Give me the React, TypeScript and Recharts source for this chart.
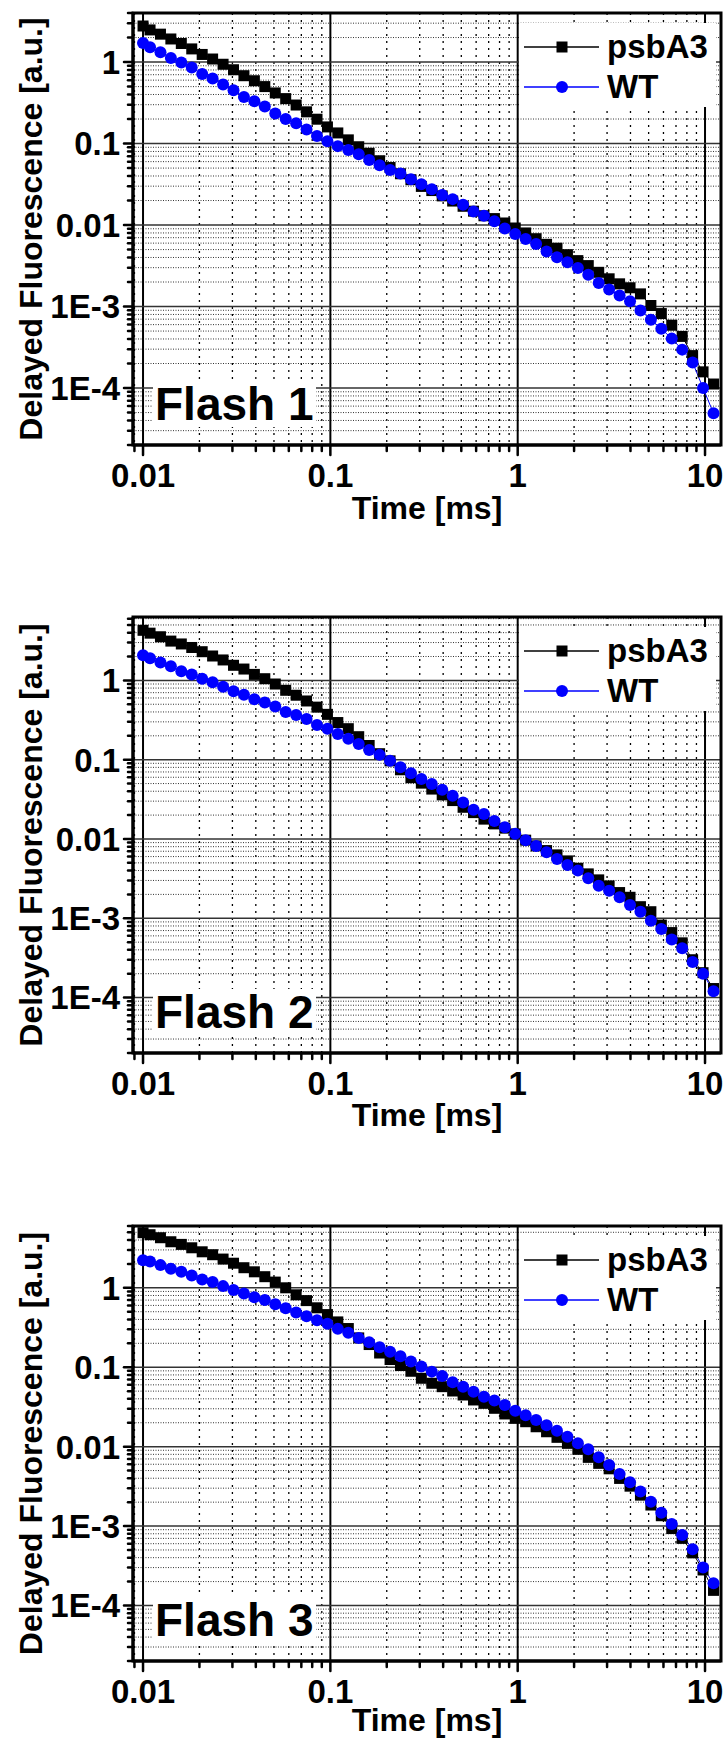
import React from 'react';
import { LineChart, Line, XAxis, YAxis, CartesianGrid, Legend, Label, ReferenceArea } from 'recharts';

// sampling times [ms], shared by all three flashes
const TIME = [
  0.01, 0.0109, 0.01239, 0.01408, 0.01601, 0.0182, 0.02069, 0.02352, 0.02675, 0.03041,
  0.03457, 0.0393, 0.04468, 0.0508, 0.05775, 0.06566, 0.07464, 0.08486, 0.09648, 0.1096,
  0.1247, 0.1417, 0.1611, 0.1832, 0.2083, 0.2367, 0.2692, 0.306, 0.3479, 0.3954,
  0.4496, 0.5111, 0.581, 0.6606, 0.751, 0.8537, 0.9703, 1.103, 1.254, 1.426,
  1.621, 1.843, 2.095, 2.381, 2.707, 3.077, 3.499, 3.978, 4.522, 5.14,
  5.844, 6.643, 7.553, 8.586, 9.761, 11.1,
];

const F1_PSBA3 = [
  2.77, 2.48, 2.2, 1.92, 1.69, 1.45, 1.24, 1.09, 0.94, 0.805,
  0.68, 0.59, 0.5, 0.418, 0.356, 0.297, 0.245, 0.199, 0.16, 0.135,
  0.111, 0.0914, 0.076, 0.0615, 0.0508, 0.0426, 0.036, 0.0298, 0.0265, 0.0228,
  0.0197, 0.017, 0.0148, 0.013, 0.012, 0.0106, 0.0092, 0.008, 0.0068, 0.0058,
  0.0052, 0.00433, 0.00366, 0.00318, 0.00263, 0.00219, 0.0019, 0.0017, 0.00143, 0.00103,
  0.00082, 0.00059, 0.00043, 0.00025, 0.000158, 0.000112,
];
const F1_WT = [
  1.71, 1.52, 1.32, 1.12, 0.99, 0.86, 0.713, 0.627, 0.53, 0.451,
  0.373, 0.331, 0.285, 0.234, 0.2, 0.177, 0.149, 0.124, 0.107, 0.093,
  0.0832, 0.0738, 0.063, 0.054, 0.0474, 0.0428, 0.0365, 0.0317, 0.0275, 0.0234,
  0.0208, 0.0177, 0.0147, 0.013, 0.0111, 0.00908, 0.00776, 0.00675, 0.00585, 0.00475,
  0.00402, 0.00349, 0.00298, 0.00245, 0.00195, 0.00162, 0.00137, 0.00116, 0.000896, 0.00069,
  0.000535, 0.000404, 0.000296, 0.000206, 0.0001, 0.000049,
];

const F2_PSBA3 = [
  4.28, 3.94, 3.55, 3.13, 2.88, 2.6, 2.3, 2.03, 1.81, 1.55,
  1.39, 1.19, 1.05, 0.9, 0.75, 0.65, 0.55, 0.46, 0.373, 0.294,
  0.246, 0.195, 0.151, 0.119, 0.0967, 0.0746, 0.0593, 0.0506, 0.0426, 0.036,
  0.0305, 0.0251, 0.0215, 0.0178, 0.0155, 0.0137, 0.0116, 0.00966, 0.00818, 0.00714,
  0.0063, 0.00529, 0.00427, 0.00363, 0.00305, 0.00256, 0.00211, 0.00184, 0.0014, 0.00121,
  0.00082, 0.00066, 0.00049, 0.0003, 0.000206, 0.00013,
];
const F2_WT = [
  2.07, 1.9, 1.68, 1.51, 1.3, 1.19, 1.05, 0.95, 0.83, 0.73,
  0.66, 0.58, 0.525, 0.47, 0.4, 0.365, 0.326, 0.273, 0.246, 0.211,
  0.184, 0.158, 0.132, 0.115, 0.0967, 0.08, 0.0674, 0.0569, 0.0492, 0.0417,
  0.035, 0.0288, 0.0233, 0.0206, 0.0169, 0.0141, 0.0116, 0.00966, 0.00818, 0.00681,
  0.00561, 0.00471, 0.00399, 0.0032, 0.00258, 0.00223, 0.00184, 0.00147, 0.00121, 0.00093,
  0.00073, 0.00054, 0.00042, 0.00028, 0.0002, 0.00012,
];

const F3_PSBA3 = [
  4.94, 4.66, 4.27, 3.8, 3.52, 3.19, 2.84, 2.61, 2.3, 2.04,
  1.79, 1.59, 1.38, 1.18, 1.0, 0.816, 0.69, 0.56, 0.46, 0.372,
  0.307, 0.234, 0.193, 0.151, 0.125, 0.105, 0.089, 0.0726, 0.0628, 0.0569,
  0.0502, 0.0447, 0.0387, 0.0351, 0.0304, 0.0258, 0.0227, 0.0206, 0.0178, 0.0154,
  0.0131, 0.011, 0.00925, 0.00733, 0.00616, 0.00526, 0.00398, 0.00318, 0.00245, 0.00184,
  0.00135, 0.00093, 0.0007, 0.00046, 0.00028, 0.000155,
];
const F3_WT = [
  2.23, 2.15, 1.93, 1.74, 1.59, 1.43, 1.27, 1.18, 1.05, 0.94,
  0.85, 0.76, 0.7, 0.62, 0.553, 0.49, 0.438, 0.39, 0.352, 0.304,
  0.271, 0.234, 0.206, 0.178, 0.157, 0.137, 0.118, 0.102, 0.088, 0.0777,
  0.0646, 0.0569, 0.0492, 0.0426, 0.038, 0.0335, 0.0284, 0.0248, 0.0216, 0.0186,
  0.0159, 0.0133, 0.011, 0.00925, 0.00733, 0.00586, 0.00452, 0.00355, 0.00273, 0.00202,
  0.00147, 0.00106, 0.00077, 0.00051, 0.0003, 0.00019,
];

const X_MAJOR = [0.01, 0.1, 1, 10];
const X_LABELS = ['0.01', '0.1', '1', '10'];
const Y_MAJOR = [1e-4, 1e-3, 0.01, 0.1, 1];
const Y_LABELS = ['1E-4', '1E-3', '0.01', '0.1', '1'];
const MULT = [2, 3, 4, 5, 6, 7, 8, 9];
const minorOf = (decades: number[]) =>
  decades.flatMap((d) => MULT.map((m) => Number((m * d).toPrecision(3))));
const X_MINOR = minorOf([0.001, 0.01, 0.1, 1]);
const Y_MINOR = minorOf([1e-5, 1e-4, 1e-3, 0.01, 0.1, 1]);

const W = 725;
const PAGE_H = 1740;
const Y_AXIS_W = 133;
const X_AXIS_H = 86;
const X_DOMAIN: [number, number] = [0.00884, 12.17];
const Y_MIN = 2e-5;
const FONT = "Arial, 'Liberation Sans', Helvetica, sans-serif";
const BLUE = '#0000ff';
const SQ = 11;
const DOT_R = 6;

// timeY: baseline of "Time [ms]" below the plot's bottom edge
const PANELS = [
  { title: 'Flash 1', psba3: F1_PSBA3, wt: F1_WT, yMax: 4, top: 0, plotTop: 13, plotBottom: 445, timeY: 74 },
  { title: 'Flash 2', psba3: F2_PSBA3, wt: F2_WT, yMax: 6.3, top: 570, plotTop: 617, plotBottom: 1053, timeY: 73 },
  { title: 'Flash 3', psba3: F3_PSBA3, wt: F3_WT, yMax: 6, top: 1170, plotTop: 1226, plotBottom: 1661, timeY: 70 },
];

const near = (a: number, b: number) => Math.abs(a - b) <= Math.abs(b) * 1e-6;
const labelOf = (v: number, majors: number[], labels: string[]) => {
  const i = majors.findIndex((m) => near(v, m));
  return i >= 0 ? labels[i] : null;
};
const inRange = (vals: number[], lo: number, hi: number) =>
  vals.filter((v) => v >= lo && v <= hi).sort((a, b) => a - b);

const XTick = (p: any) => {
  const label = labelOf(p.payload.value, X_MAJOR, X_LABELS);
  return (
    <g>
      <line x1={p.x} x2={p.x} y1={p.y} y2={p.y + (label ? 10 : 6)} stroke="#000" strokeWidth={2.5} strokeLinecap="round" />
      {label && (
        <text x={p.x} y={p.y + 42} textAnchor="middle" fontFamily={FONT} fontWeight={700} fontSize={33} fill="#000">
          {label}
        </text>
      )}
    </g>
  );
};

const YTick = (p: any) => {
  const label = labelOf(p.payload.value, Y_MAJOR, Y_LABELS);
  return (
    <g>
      <line x1={p.x} x2={p.x - (label ? 9 : 5)} y1={p.y} y2={p.y} stroke="#000" strokeWidth={2.5} strokeLinecap="round" />
      {label && (
        <text x={p.x - 13} y={p.y} dy="0.36em" textAnchor="end" fontFamily={FONT} fontWeight={700} fontSize={33} fill="#000">
          {label}
        </text>
      )}
    </g>
  );
};

// small inward ticks on the right border
const RTick = (p: any) => {
  const major = labelOf(p.payload.value, Y_MAJOR, Y_LABELS) != null;
  return <line x1={p.x} x2={p.x - (major ? 8 : 5)} y1={p.y} y2={p.y} stroke="#000" strokeWidth={2} />;
};

const squareDot = (p: any) => (
  <rect key={`sq-${p.index}`} x={p.cx - SQ / 2} y={p.cy - SQ / 2} width={SQ} height={SQ} fill="#000" />
);

const SERIES = [
  { key: 'psbA3', color: '#000' },
  { key: 'WT', color: BLUE },
];

const LegendBox = () => (
  <div
    style={{
      width: 197, height: 84, background: '#fff', paddingTop: 4, boxSizing: 'border-box',
      fontFamily: FONT, fontWeight: 700, fontSize: 33, color: '#000',
    }}
  >
    {SERIES.map((s) => (
      <div key={s.key} style={{ display: 'flex', alignItems: 'center', height: 40 }}>
        <svg width={88} height={40} style={{ display: 'block' }}>
          <line x1={5} x2={80} y1={20} y2={20} stroke={s.color} strokeWidth={1.5} />
          {s.key === 'psbA3' ? (
            <rect x={43 - SQ / 2} y={20 - SQ / 2} width={SQ} height={SQ} fill="#000" />
          ) : (
            <circle cx={43} cy={20} r={DOT_R} fill={BLUE} />
          )}
        </svg>
        <span style={{ lineHeight: '40px' }}>{s.key}</span>
      </div>
    ))}
  </div>
);

const Panel = ({ title, psba3, wt, yMax, top, plotTop, plotBottom, timeY }: (typeof PANELS)[number]) => {
  const data = TIME.map((t, i) => ({ t, psbA3: psba3[i], WT: wt[i] }));
  const height = plotBottom - top + X_AXIS_H;
  const yDomain: [number, number] = [Y_MIN, yMax];
  const xMinor = inRange(X_MINOR, X_DOMAIN[0], X_DOMAIN[1]);
  const yMinor = inRange(Y_MINOR, Y_MIN, yMax);
  const xTicks = inRange([...X_MINOR, ...X_MAJOR], X_DOMAIN[0], X_DOMAIN[1]);
  const yTicks = inRange([...Y_MINOR, ...Y_MAJOR], Y_MIN, yMax);
  const frame = { stroke: '#000', strokeWidth: 3 };
  const logY = { type: 'number' as const, scale: 'log' as const, domain: yDomain, allowDataOverflow: true };

  return (
    <div style={{ position: 'absolute', left: 0, top, width: W, height }}>
      <LineChart width={W} height={height} data={data} margin={{ top: plotTop - top, right: 4, bottom: 0, left: 0 }}>
        {/* hidden y axes that only carry horizontal grid positions */}
        <YAxis yAxisId="yminor" {...logY} hide ticks={yMinor} interval={0} />
        <YAxis yAxisId="ymajor" {...logY} hide ticks={Y_MAJOR} interval={0} />

        <CartesianGrid horizontal={false} verticalValues={xMinor} stroke="#000" strokeWidth={1.3} strokeDasharray="2 5" />
        <CartesianGrid yAxisId="yminor" vertical={false} stroke="#333" strokeWidth={1} strokeDasharray="1 1.5" />
        <CartesianGrid horizontal={false} verticalValues={X_MAJOR} stroke="#000" strokeWidth={2} />
        <CartesianGrid yAxisId="ymajor" vertical={false} stroke="#333" strokeWidth={1.5} />

        <XAxis
          dataKey="t"
          type="number"
          scale="log"
          domain={X_DOMAIN}
          allowDataOverflow
          ticks={xTicks}
          interval={0}
          minTickGap={0}
          tickSize={0}
          tickMargin={0}
          tickLine={false}
          tick={(p: any) => <XTick {...p} />}
          axisLine={frame}
          height={X_AXIS_H}
        >
          <Label
            content={(lp: any) => {
              const vb = lp.viewBox || { x: 0, y: 0, width: 0 };
              return (
                <text
                  x={vb.x + vb.width / 2}
                  y={vb.y + timeY}
                  textAnchor="middle"
                  fontFamily={FONT}
                  fontWeight={700}
                  fontSize={32}
                  fill="#000"
                >
                  Time [ms]
                </text>
              );
            }}
          />
        </XAxis>
        <YAxis
          {...logY}
          ticks={yTicks}
          interval={0}
          minTickGap={0}
          tickSize={0}
          tickMargin={0}
          tickLine={false}
          tick={(p: any) => <YTick {...p} />}
          axisLine={frame}
          width={Y_AXIS_W}
        >
          <Label
            content={(lp: any) => {
              const vb = lp.viewBox || { x: 0, y: 0, height: 0 };
              const cx = vb.x + 30;
              const cy = vb.y + vb.height / 2;
              return (
                <text
                  x={cx}
                  y={cy}
                  dy="0.36em"
                  transform={`rotate(-90 ${cx} ${cy})`}
                  textAnchor="middle"
                  fontFamily={FONT}
                  fontWeight={700}
                  fontSize={32}
                  fill="#000"
                >
                  Delayed Fluorescence [a.u.]
                </text>
              );
            }}
          />
        </YAxis>
        <YAxis
          yAxisId="right"
          orientation="right"
          {...logY}
          width={0}
          ticks={yTicks}
          interval={0}
          tickSize={0}
          tickMargin={0}
          tickLine={false}
          tick={(p: any) => <RTick {...p} />}
          axisLine={frame}
        />
        <ReferenceArea
          x1={X_DOMAIN[0]}
          x2={X_DOMAIN[1]}
          y1={Y_MIN}
          y2={yMax}
          fill="none"
          fillOpacity={0}
          stroke="#000"
          strokeWidth={3}
          ifOverflow="visible"
        />
        <Line
          dataKey="psbA3"
          type="linear"
          stroke="#000"
          strokeWidth={1}
          dot={squareDot}
          activeDot={false}
          isAnimationActive={false}
        />
        <Line
          dataKey="WT"
          type="linear"
          stroke={BLUE}
          strokeWidth={1}
          dot={{ r: DOT_R, fill: BLUE, stroke: 'none' }}
          activeDot={false}
          isAnimationActive={false}
        />
        <Legend
          layout="horizontal"
          verticalAlign="middle"
          align="center"
          content={() => <LegendBox />}
          wrapperStyle={{ left: 519, top: plotTop - top + 10, width: 197, height: 84 }}
        />
      </LineChart>
      <div
        style={{
          position: 'absolute', left: 153, top: plotBottom - top - 64, height: 46, lineHeight: '46px',
          padding: '0 2px', background: '#fff', fontFamily: FONT, fontWeight: 700, fontSize: 46, color: '#000',
        }}
      >
        {title}
      </div>
    </div>
  );
};

export default function App() {
  return (
    <div style={{ position: 'absolute', left: 0, top: 0, width: W, height: PAGE_H, background: '#fff', overflow: 'hidden' }}>
      {PANELS.map((p) => (
        <Panel key={p.title} {...p} />
      ))}
    </div>
  );
}
